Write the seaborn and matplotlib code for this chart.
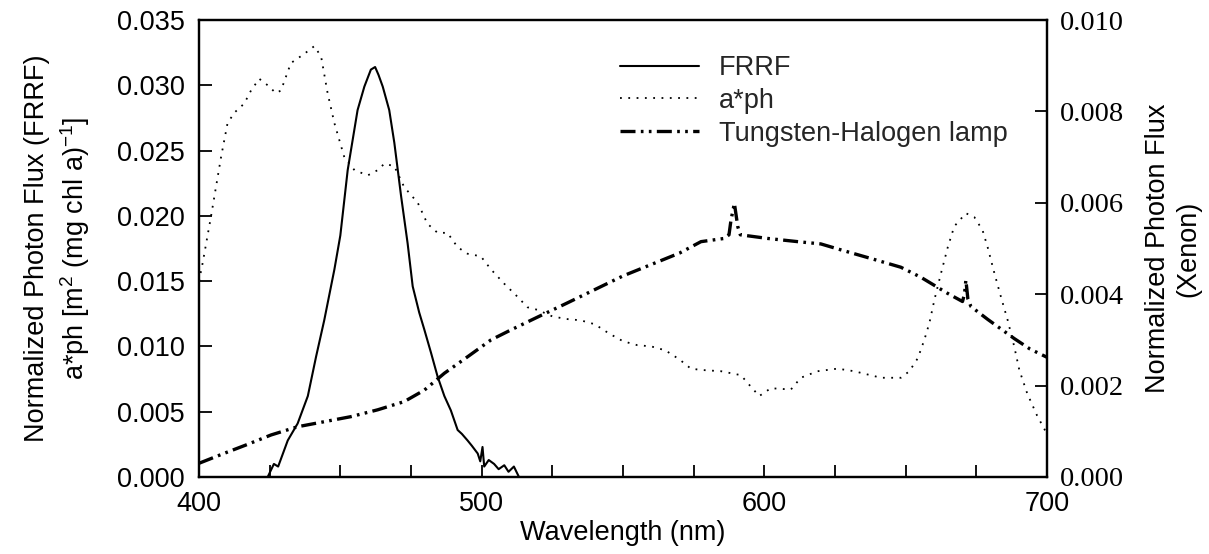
import numpy as np
import pandas as pd
import matplotlib
matplotlib.use("Agg")
import matplotlib.pyplot as plt
import seaborn as sns

# ---- data ----
frrf_wl = [424.3, 426.5, 428.0, 431.4, 434.9, 438.5, 441.4, 444.3, 447.9, 450.0,
           452.6, 456.1, 458.5, 460.8, 462.3, 463.5, 465.0, 467.3, 469.1, 471.5,
           473.8, 475.6, 477.9, 479.7, 482.1, 484.4, 486.8, 489.1, 491.5, 493.0,
           495.0, 496.5, 498.6, 499.5, 500.3, 500.9, 502.5, 504.4, 506.0, 508.0,
           509.5, 511.4, 513.2]
frrf_val = [0.0, 0.0010, 0.0008, 0.0028, 0.0041, 0.0062, 0.0092, 0.0120, 0.0159, 0.0185,
            0.0235, 0.0281, 0.0299, 0.0312, 0.0314, 0.0308, 0.0299, 0.0281, 0.0256, 0.0215,
            0.0179, 0.0146, 0.0126, 0.0113, 0.0095, 0.0077, 0.0062, 0.0051, 0.0036, 0.0033,
            0.0028, 0.0024, 0.0018, 0.0012, 0.0023, 0.0008, 0.0013, 0.0010, 0.0006, 0.0009,
            0.0004, 0.0008, 0.0]

aph_wl = [400, 401.3, 404.2, 407.8, 410.1, 412.5, 416.0, 418.4, 421.3, 424.3,
          427.2, 429.0, 432.5, 437.2, 440.8, 443.2, 445.5, 447.9, 451.4, 455.0,
          459.7, 463.2, 465.6, 469.1, 472.6, 477.4, 480.8, 484.4, 487.9, 491.5,
          495.0, 499.7, 503.3, 508.0, 512.7, 516.2, 519.8, 525, 530, 535,
          540, 545, 550, 555, 560, 565, 570, 574, 577.6, 584.7,
          591.7, 595.3, 598.2, 602.3, 609.4, 612.9, 618.8, 625.9, 631.8, 641.3,
          648.3, 651.3, 654.3, 656.6, 658.4, 660.2, 662.5, 664.9, 667.2, 671.3,
          674.3, 677.2, 679.0, 681.4, 683.7, 686.1, 688.4, 690.2, 693.0, 696.5,
          700]
aph_val = [0.0150, 0.0164, 0.0199, 0.0245, 0.0271, 0.0279, 0.0286, 0.0296, 0.0305, 0.0300,
           0.0294, 0.0296, 0.0317, 0.0324, 0.0330, 0.0322, 0.0294, 0.0271, 0.0245, 0.0235,
           0.0231, 0.0235, 0.0240, 0.0238, 0.0222, 0.0210, 0.0194, 0.0187, 0.0187, 0.0176,
           0.0171, 0.0169, 0.0159, 0.0148, 0.0138, 0.0130, 0.0128, 0.0123, 0.0121, 0.0120,
           0.0117, 0.0110, 0.0104, 0.0101, 0.0100, 0.0097, 0.0090, 0.0083, 0.0082, 0.0081,
           0.0078, 0.0069, 0.0062, 0.0068, 0.0067, 0.0076, 0.0081, 0.0083, 0.0081, 0.0076,
           0.0076, 0.0081, 0.0091, 0.0105, 0.0118, 0.0136, 0.0156, 0.0176, 0.0192, 0.0202,
           0.0199, 0.0189, 0.0176, 0.0156, 0.0138, 0.0120, 0.0100, 0.0082, 0.0064, 0.0047,
           0.0033]

lamp_wl = [400, 409.0, 416.6, 425.5, 434.9, 444.3, 453.7, 463.2, 472.6, 479.7,
           486.8, 495.0, 503.3, 510.4, 519.8, 530, 540, 550, 560, 570,
           577.6, 585.8, 587.5, 588.2, 589.4, 590.6, 591.5, 601.2, 611.8, 620.0,
           627.1, 638.9, 648.3, 655.4, 664.8, 670.1, 670.8, 671.3, 672.0, 673.1,
           679.0, 688.4, 694.0, 700]
lamp_val = [0.00030, 0.00052, 0.00070, 0.00092, 0.00110, 0.00121, 0.00132, 0.00147, 0.00165, 0.00190,
            0.00227, 0.00263, 0.00300, 0.00322, 0.00350, 0.00380, 0.00410, 0.00440, 0.00465, 0.00490,
            0.00515, 0.00522, 0.00530, 0.00562, 0.00599, 0.00548, 0.00530, 0.00522, 0.00515, 0.00510,
            0.00497, 0.00476, 0.00459, 0.00437, 0.00402, 0.00384, 0.00400, 0.00431, 0.00390, 0.00373,
            0.00345, 0.00303, 0.00280, 0.00262]

x_ticks = [400, 500, 600, 700]
left_ticks = [0.000, 0.005, 0.010, 0.015, 0.020, 0.025, 0.030, 0.035]
right_ticks = [0.000, 0.002, 0.004, 0.006, 0.008, 0.010]

# ---- style ----
sns.set_theme(style="white")
plt.rcParams['font.family'] = ['Liberation Sans', 'DejaVu Sans']
plt.rcParams['mathtext.fontset'] = 'custom'
plt.rcParams['mathtext.rm'] = 'Liberation Sans'
plt.rcParams['mathtext.it'] = 'Liberation Sans:italic'
FS = 19.5

fig = plt.figure(figsize=(12.09, 5.54), dpi=100)
ax = fig.add_axes([199/1209, 1-477/554, (1047-199)/1209, (477-20)/554])
ax2 = ax.twinx()

df_f = pd.DataFrame({"wl": frrf_wl, "v": frrf_val})
df_a = pd.DataFrame({"wl": aph_wl, "v": aph_val})
df_l = pd.DataFrame({"wl": lamp_wl, "v": lamp_val})

sns.lineplot(data=df_f, x="wl", y="v", ax=ax, color="black", linewidth=1.5,
             label="FRRF", legend=False)
sns.lineplot(data=df_a, x="wl", y="v", ax=ax, color="black", linewidth=1.3,
             linestyle=(0, (1, 3.6)), label="a*ph", legend=False)
sns.lineplot(data=df_l, x="wl", y="v", ax=ax2, color="black", linewidth=2.4,
             linestyle=(0, (4.5, 1.6, 0.8, 1.6, 0.8, 1.6)), label="Tungsten-Halogen lamp",
             legend=False)

ax.set_xlim(400, 700)
ax.set_ylim(0, 0.035)
ax2.set_ylim(0, 0.010)
ax.set_xticks(x_ticks)
ax.set_xticks(np.arange(400, 701, 25), minor=True)
ax.set_yticks(left_ticks)
ax2.set_yticks(right_ticks)
ax.set_xticklabels([str(t) for t in x_ticks])
ax.set_yticklabels([f"{t:.3f}" for t in left_ticks])
ax2.set_yticklabels([f"{t:.3f}" for t in right_ticks])

for a in (ax, ax2):
    for s in a.spines.values():
        s.set_color("black")
        s.set_linewidth(1.6)
ax.tick_params(axis="x", which="both", direction="in", length=9, width=1.3,
               colors="black", labelsize=FS, pad=10, top=False, bottom=True)
ax.tick_params(axis="y", which="both", direction="in", length=9, width=1.3,
               colors="black", labelsize=FS, pad=10, left=True, right=False)
ax2.tick_params(axis="y", which="both", direction="in", length=9, width=1.3,
                colors="black", labelsize=FS + 1, pad=9, right=True)
for lab in ax2.get_yticklabels():
    lab.set_fontfamily("Liberation Serif")

ax.set_xlabel("Wavelength (nm)", fontsize=FS, color="black", labelpad=2)
ax.set_ylabel("Normalized Photon Flux (FRRF)\na*ph [m$^{2}$ (mg chl a)$^{-1}$]",
              fontsize=FS, color="black", linespacing=1.3)
ax.yaxis.set_label_coords((92-199)/848, 0.5)
ax2.set_ylabel("Normalized Photon Flux\n(Xenon)", fontsize=FS, color="black",
               linespacing=1.2)
ax2.yaxis.set_label_coords((1145-199)/848, 0.5)

h1, l1 = ax.get_legend_handles_labels()
h2, l2 = ax2.get_legend_handles_labels()
leg = ax.legend(h1 + h2, l1 + l2, loc="upper left",
                bbox_to_anchor=((620-199)/848, (477-55)/457),
                frameon=False, fontsize=FS, handlelength=2.9, handletextpad=0.75,
                labelspacing=0.25, borderpad=0, borderaxespad=0)
leg.set_zorder(10)

fig.savefig("out.png", dpi=100, facecolor="white")
